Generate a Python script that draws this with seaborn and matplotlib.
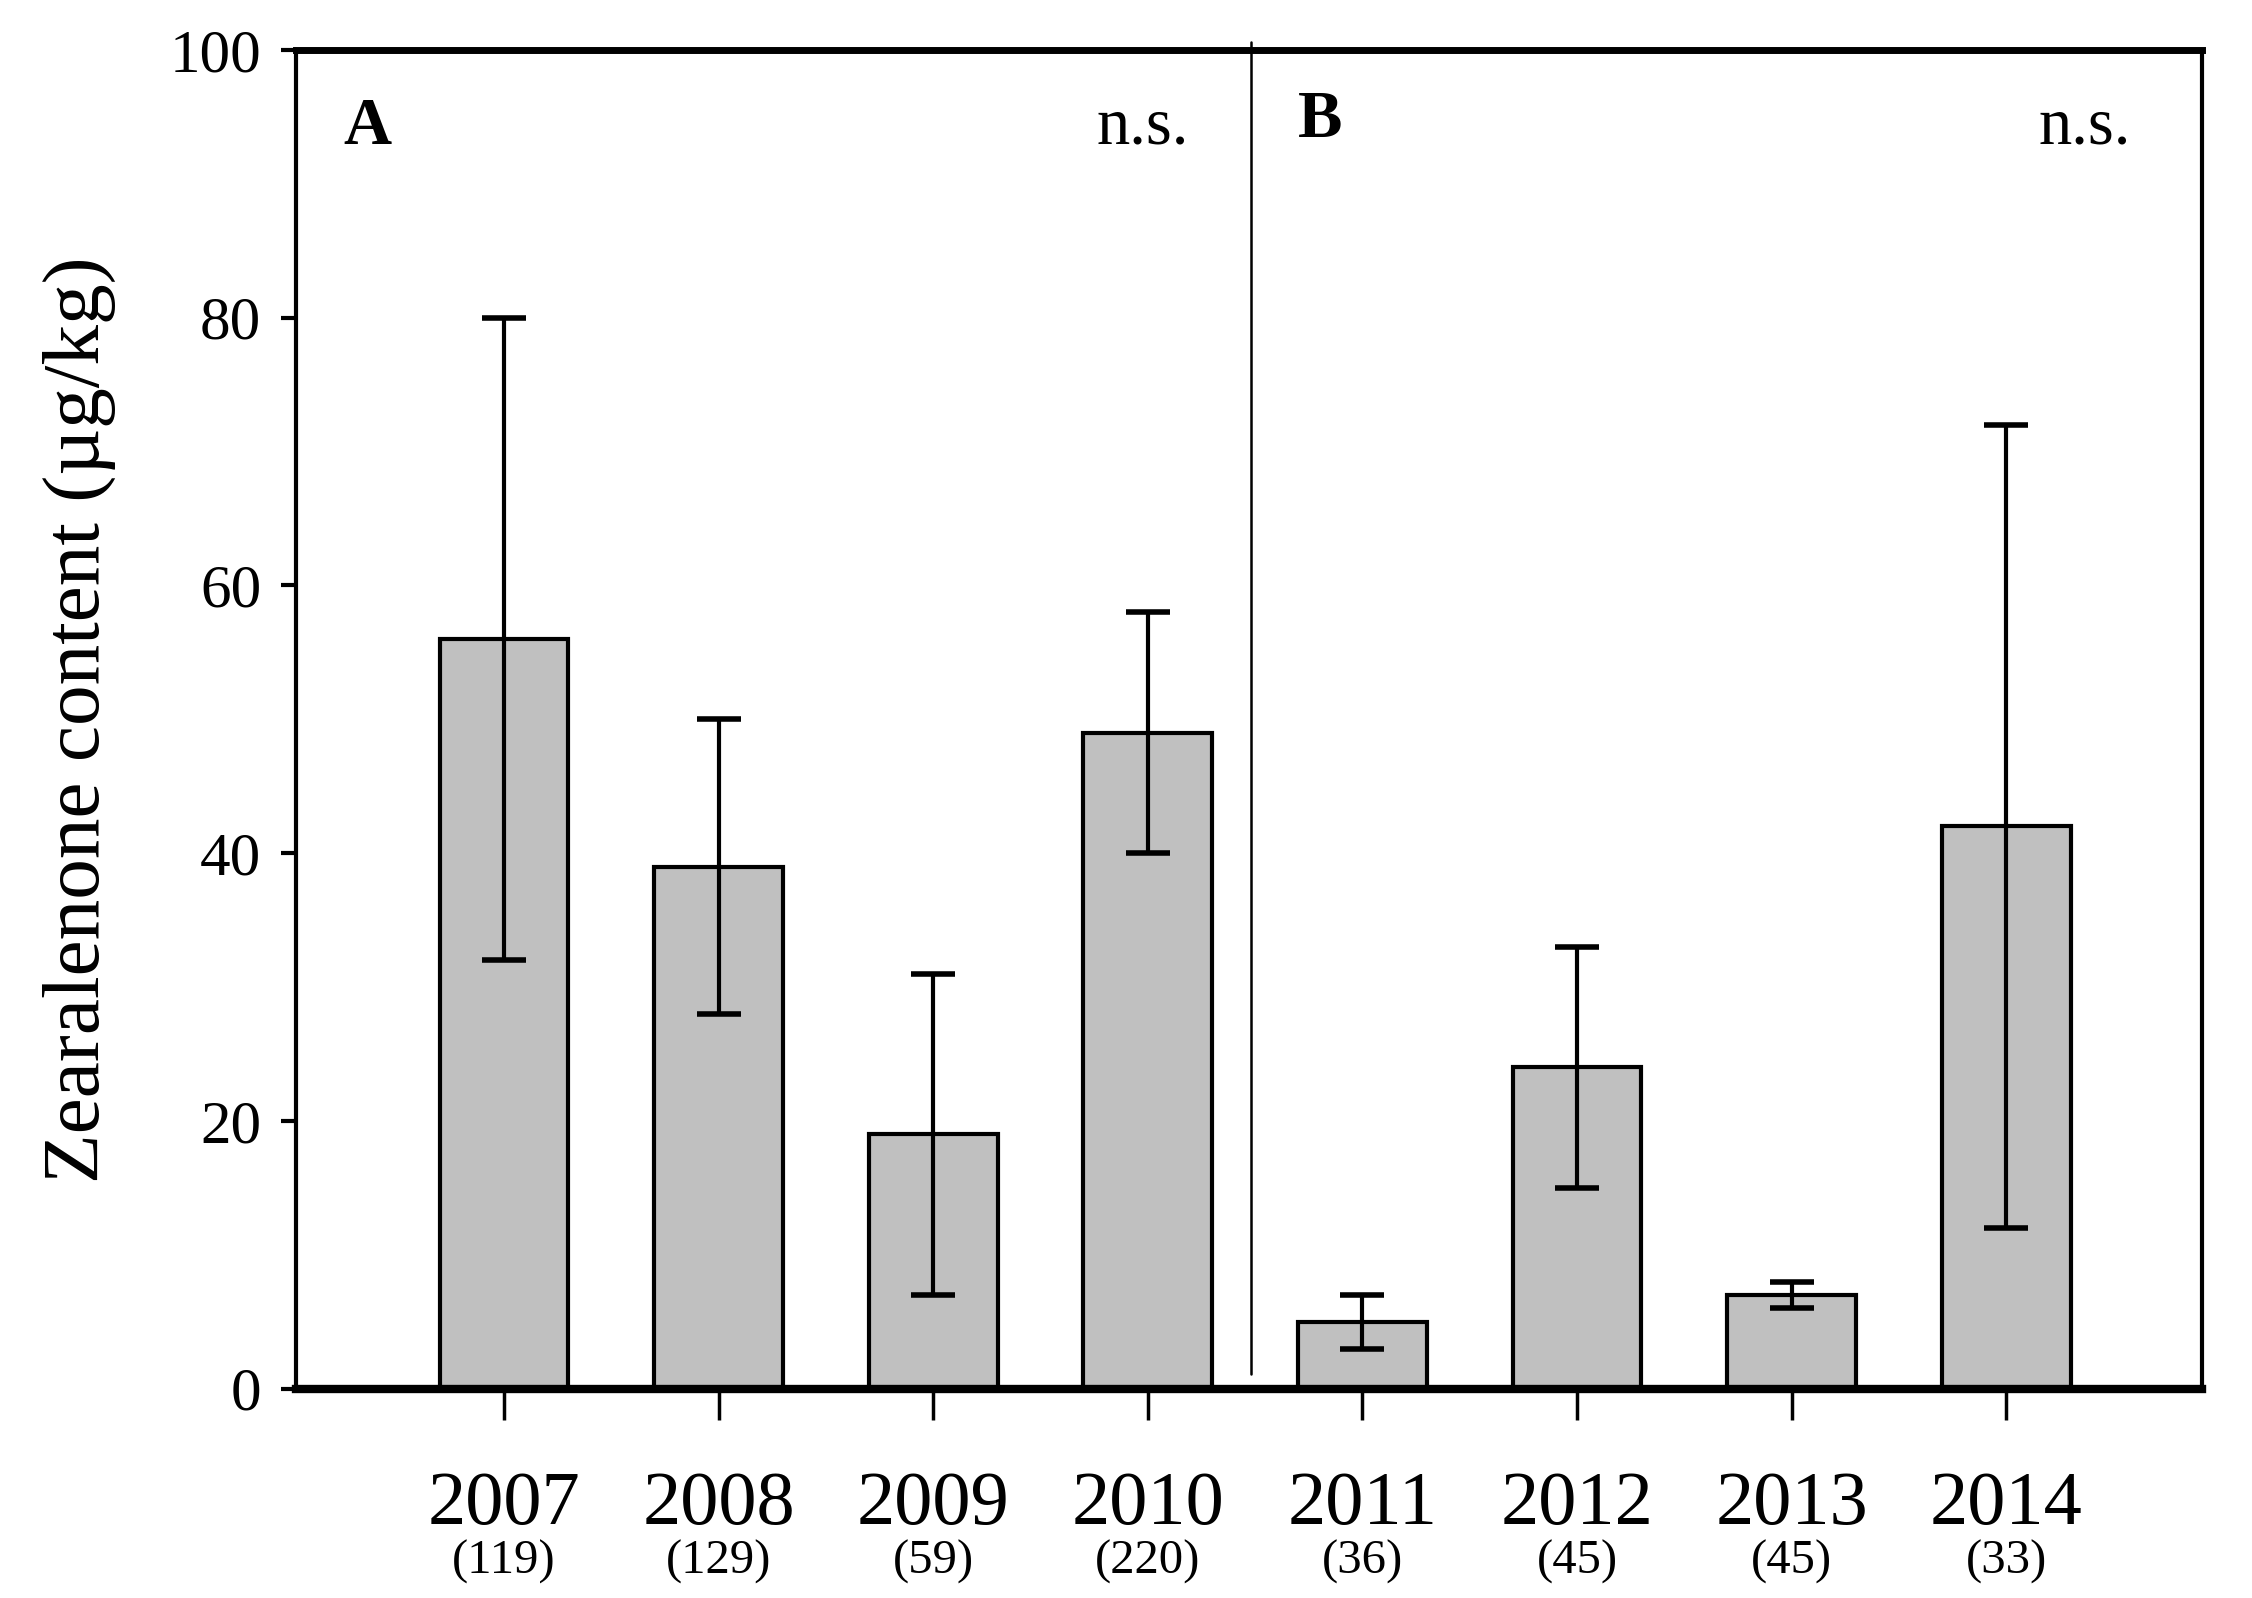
import matplotlib
matplotlib.use("Agg")
import matplotlib.pyplot as plt
import matplotlib.transforms as mtransforms
import seaborn as sns
import pandas as pd

years = ["2007", "2008", "2009", "2010", "2011", "2012", "2013", "2014"]
counts = ["(119)", "(129)", "(59)", "(220)", "(36)", "(45)", "(45)", "(33)"]
means = [56, 39, 19, 49, 5, 24, 7, 42]
errors = [24, 11, 12, 9, 2, 9, 1, 30]
yticks = [0, 20, 40, 60, 80, 100]

sns.set_theme(style="white")
plt.rcParams["font.family"] = ["Liberation Serif", "DejaVu Serif"]

df = pd.DataFrame({"year": years, "mean": means, "err": errors})

fig = plt.figure(figsize=(22.52, 15.98), dpi=100)
ax = fig.add_axes([0.1314, 0.131, 0.8462, 0.8377])

sns.barplot(data=df, x="year", y="mean", color="#c0c0c0", edgecolor="black",
            linewidth=3, width=0.6, saturation=1, errorbar=None, ax=ax, zorder=2)
ax.errorbar(range(len(years)), df["mean"], yerr=df["err"], fmt="none",
            ecolor="black", elinewidth=3, capsize=15.5, capthick=4, zorder=3)

ax.set_xlim(-0.97, 7.91)
ax.set_ylim(0, 100)
ax.set_yticks(yticks)
ax.set_yticklabels([str(v) for v in yticks], fontsize=44)
ax.set_xticks(range(len(years)))
ax.set_xticklabels(years, fontsize=55)
ax.tick_params(axis="y", direction="out", length=11, width=3, pad=14, left=True, colors="black")
ax.tick_params(axis="x", direction="out", length=22, width=2.5, pad=37, bottom=True, colors="black")
ax.set_xlabel("")
ax.set_ylabel("Zearalenone content (µg/kg)", fontsize=58.5, color="black")
ax.yaxis.set_label_coords(-0.0945, 0.5)

for side, lw in [("left", 3), ("bottom", 6), ("top", 5), ("right", 3)]:
    ax.spines[side].set_visible(True)
    ax.spines[side].set_color("black")
    ax.spines[side].set_linewidth(lw)

trans = mtransforms.blended_transform_factory(ax.transData, ax.transAxes)
for i, c in enumerate(counts):
    ax.text(i, -0.138, c, transform=trans, ha="center", va="baseline", fontsize=35, color="black")

ax.plot([3.48, 3.48], [1.1, 100.6], color="black", linewidth=1.8, clip_on=False, zorder=4)

ax.text(-0.75, 93, "A", fontsize=48, fontweight="bold", ha="left", va="baseline", color="black")
ax.text(3.19, 93, "n.s.", fontsize=48, ha="right", va="baseline", color="black")
ax.text(3.70, 93.5, "B", fontsize=48, fontweight="bold", ha="left", va="baseline", color="black")
ax.text(7.58, 93, "n.s.", fontsize=48, ha="right", va="baseline", color="black")

fig.savefig("out.png", dpi=100, facecolor="white")
